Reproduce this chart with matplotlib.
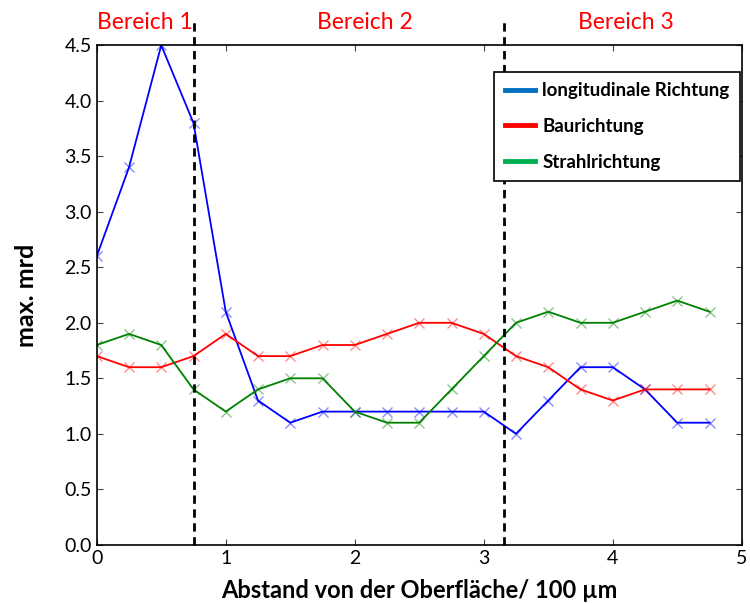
import numpy as np
import matplotlib.pyplot as plt
from matplotlib.lines import Line2D

plt.rcParams['font.family'] = ['Lato', 'DejaVu Sans']

# Abstand von der Oberflaeche (x 100 um)
x = np.arange(0, 5, 0.25)

longitudinal = [2.6, 3.4, 4.5, 3.8, 2.1, 1.3, 1.1, 1.2, 1.2, 1.2,
                1.2, 1.2, 1.2, 1.0, 1.3, 1.6, 1.6, 1.4, 1.1, 1.1]
bau = [1.7, 1.6, 1.6, 1.7, 1.9, 1.7, 1.7, 1.8, 1.8, 1.9,
       2.0, 2.0, 1.9, 1.7, 1.6, 1.4, 1.3, 1.4, 1.4, 1.4]
strahl = [1.8, 1.9, 1.8, 1.4, 1.2, 1.4, 1.5, 1.5, 1.2, 1.1,
          1.1, 1.4, 1.7, 2.0, 2.1, 2.0, 2.0, 2.1, 2.2, 2.1]

grenzen = [0.75, 3.16]
bereiche = ['Bereich 1', 'Bereich 2', 'Bereich 3']
bereich_x = [0.075, 0.415, 0.82]

fig = plt.figure(figsize=(7.5, 6.04), dpi=100)
ax = fig.add_axes([0.129, 0.098, 0.860, 0.827])

for y, c in [(longitudinal, 'blue'), (bau, 'red'), (strahl, 'green')]:
    ax.plot(x, y, color=c, lw=1.3)
    ax.plot(x, y, 'x', color=c, ms=7, mew=1.0, alpha=0.45)

for g in grenzen:
    ax.axvline(g, ymin=0, ymax=1.046, color='black', ls='--', lw=2,
               dashes=(3, 2), clip_on=False)

for lab, bx in zip(bereiche, bereich_x):
    ax.text(bx, 1.045, lab, transform=ax.transAxes, color='red',
            fontsize=16.5, ha='center', va='center')

ax.set_xlim(0, 5)
ax.set_ylim(0, 4.5)
ax.set_yticks(np.arange(0, 4.51, 0.5))
ax.set_yticklabels(['%.1f' % v for v in np.arange(0, 4.51, 0.5)])
ax.tick_params(direction='in', top=True, right=True, labelsize=14,
               length=4, colors='#444444', labelcolor='black')
for s in ax.spines.values():
    s.set_linewidth(1.2)

ax.set_xlabel('Abstand von der Oberfläche/ 100 µm', fontsize=17,
              fontweight='bold', labelpad=9)
ax.set_ylabel('max. mrd', fontsize=18, fontweight='bold', labelpad=19)

handles = [Line2D([], [], color='#0070C0', lw=3.5),
           Line2D([], [], color='#FF0000', lw=3.5),
           Line2D([], [], color='#00B050', lw=3.5)]
leg = ax.legend(handles, ['longitudinale Richtung', 'Baurichtung', 'Strahlrichtung'],
                loc='upper right', bbox_to_anchor=(0.997, 0.947),
                fancybox=False, edgecolor='black', framealpha=1,
                prop={'weight': 'bold', 'size': 13.5}, handlelength=1.6,
                handletextpad=0.4, labelspacing=1.0, borderpad=0.55,
                borderaxespad=0)
leg.get_frame().set_linewidth(1.2)

fig.savefig('out.png', dpi=100)
